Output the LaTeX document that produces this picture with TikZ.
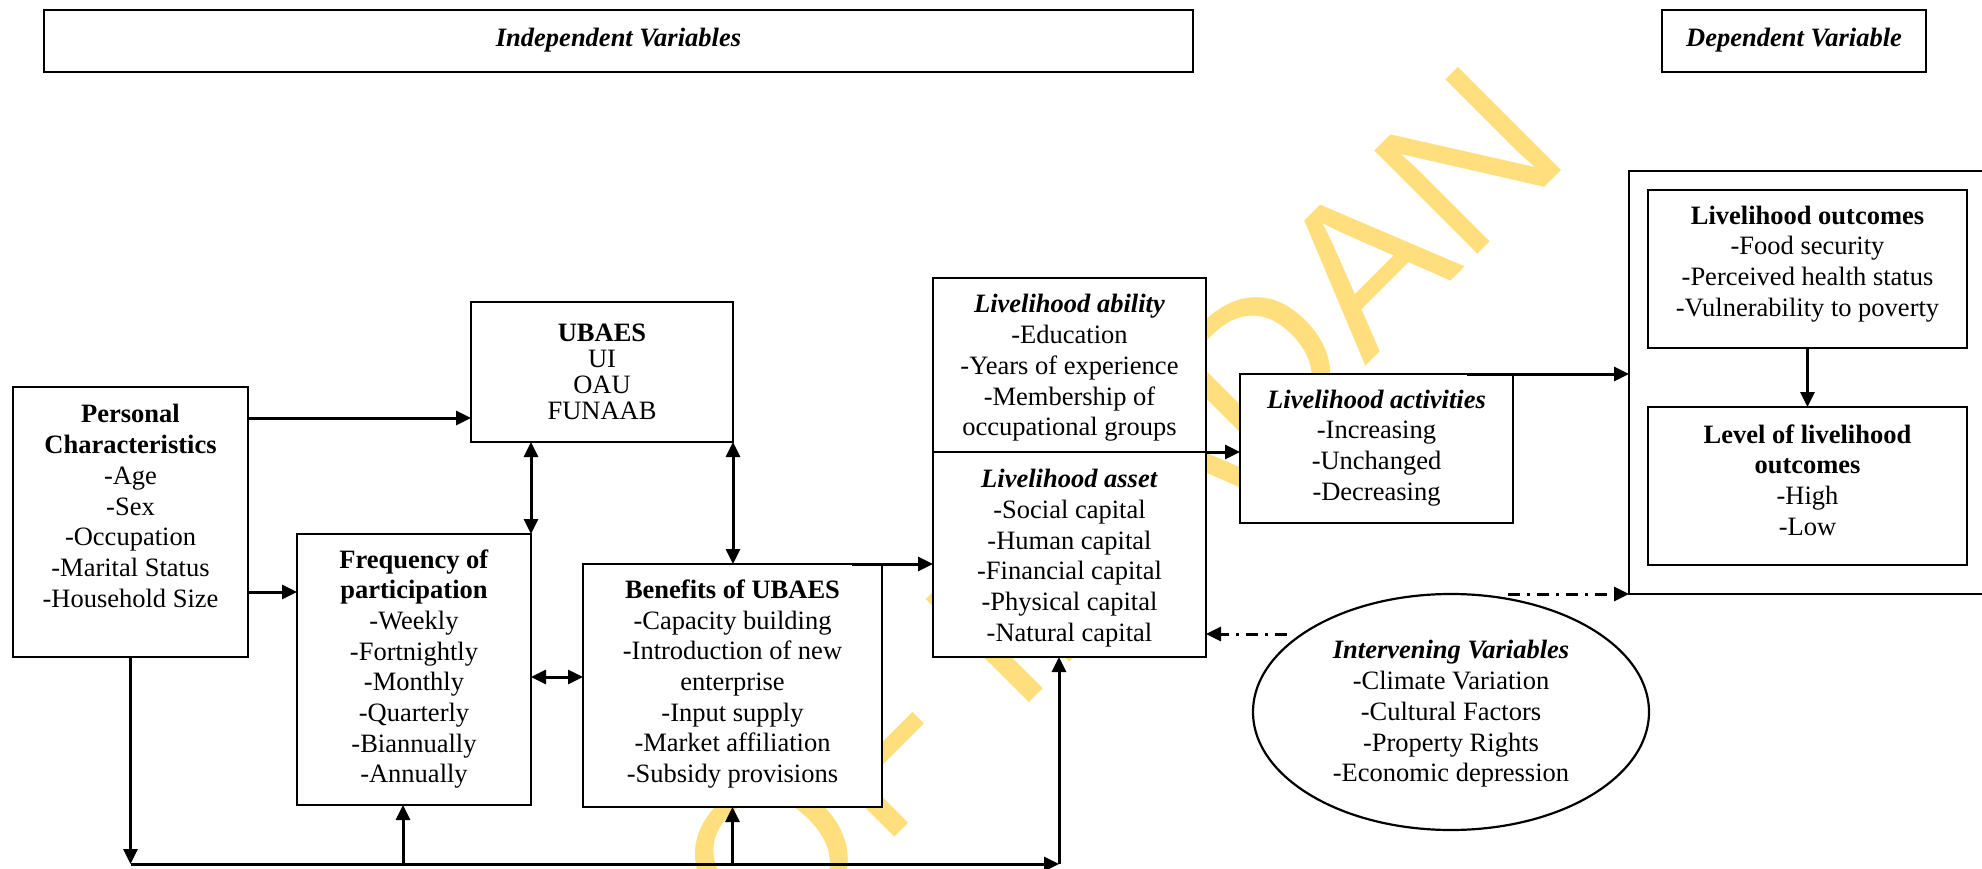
\documentclass[tikz,border=0pt]{standalone}
\usepackage{fontspec}
\setmainfont{Liberation Serif}
\newfontfamily\wmfont{Liberation Sans}
\usetikzlibrary{arrows.meta,shapes.geometric}
\definecolor{wmyellow}{RGB}{255,222,125}
\begin{document}
\begin{tikzpicture}[x=1pt,y=-1pt,
  box/.style={draw, line width=2.2pt, fill=white, rectangle, inner sep=0pt, outer sep=0pt},
  ell/.style={draw, line width=2.2pt, fill=white, ellipse, inner sep=0pt, outer sep=0pt},
  txt/.style={align=center, font=\fontsize{26.5}{30.7}\selectfont, inner sep=0pt},
  tipA/.tip={Triangle[length=15pt,width=14pt]},
  conn/.style={line width=3pt, -tipA},
  dconn/.style={line width=3pt, tipA-tipA},
  plain/.style={line width=3pt},
  dd/.style={line width=3pt, -tipA, dash pattern=on 12pt off 7pt on 3pt off 7pt},
  wm/.style={text=wmyellow, font=\wmfont\fontsize{212}{212}\selectfont, inner sep=0pt}]
\useasboundingbox (0,0) rectangle (1982,869);
% watermark
\node[wm, rotate=45, anchor=base east] (wmark) at (1574,158) {UNIVERSITY OF IBADAN};
% header boxes
\node[box, minimum width=1149pt, minimum height=62pt] (indep) at (618.5,41) {};
\node[txt] (tindep) at (618.5,40) {\textbf{\textit{Independent Variables}}};
\node[box, minimum width=264pt, minimum height=62pt] (dep) at (1794,41) {};
\node[txt] (tdep) at (1794,40) {\textbf{\textit{Dependent Variable}}};
% boxes
\node[box, minimum width=235pt, minimum height=270pt] (personal) at (130.5,522) {};
\node[box, minimum width=262pt, minimum height=140pt] (ubaes) at (602,372) {};
\node[box, minimum width=234pt, minimum height=271pt] (freq) at (414,669.5) {};
\node[box, minimum width=299pt, minimum height=243pt] (benef) at (732.5,685.5) {};
\node[box, minimum width=273pt, minimum height=174pt] (ability) at (1069.5,365) {};
\node[box, minimum width=273pt, minimum height=205pt] (asset) at (1069.5,554.5) {};
\node[box, minimum width=273pt, minimum height=149pt] (activ) at (1376.5,448.5) {};
\node[box, minimum width=355pt, minimum height=423pt] (outer) at (1806.5,382.5) {};
\node[box, minimum width=319pt, minimum height=158pt] (outc) at (1807.5,269) {};
\node[box, minimum width=319pt, minimum height=158pt] (level) at (1807.5,486) {};
\node[ell, minimum width=396pt, minimum height=236pt] (interv) at (1451,712) {};
% texts
\node[txt] (tpersonal) at (130.5,506) {\textbf{Personal}\\\textbf{Characteristics}\\-Age\\-Sex\\-Occupation\\-Marital Status\\-Household Size};
\node[txt, font=\fontsize{26.5}{26.1}\selectfont] (tubaes) at (602,372) {\textbf{UBAES}\\UI\\OAU\\FUNAAB};
\node[txt] (tfreq) at (414,669) {\textbf{Frequency of}\\\textbf{participation}\\-Weekly\\-Fortnightly\\-Monthly\\-Quarterly\\-Biannually\\-Annually};
\node[txt] (tbenef) at (732.5,684) {\textbf{Benefits of UBAES}\\-Capacity building\\-Introduction of new\\enterprise\\-Input supply\\-Market affiliation\\-Subsidy provisions};
\node[txt] (tability) at (1069.5,368) {\textbf{\textit{Livelihood ability}}\\-Education\\-Years of experience\\-Membership of\\occupational groups};
\node[txt] (tasset) at (1069.5,558) {\textbf{\textit{Livelihood asset}}\\-Social capital\\-Human capital\\-Financial capital\\-Physical capital\\-Natural capital};
\node[txt] (tactiv) at (1376.5,448) {\textbf{\textit{Livelihood activities}}\\-Increasing\\-Unchanged\\-Decreasing};
\node[txt] (toutc) at (1807.5,264) {\textbf{Livelihood outcomes}\\-Food security\\-Perceived health status\\-Vulnerability to poverty};
\node[txt] (tlevel) at (1807.5,480) {\textbf{Level of livelihood}\\\textbf{outcomes}\\-High\\-Low};
\node[txt] (tinterv) at (1451,714) {\textbf{\textit{Intervening Variables}}\\-Climate Variation\\-Cultural Factors\\-Property Rights\\-Economic depression};
% connectors
\draw[conn] (personal.east |- 0,418) -- (ubaes.west |- 0,418);
\draw[conn] (personal.east |- 0,592) -- (freq.west |- 0,592);
\draw[dconn] (freq.north east) -- (ubaes.south -| freq.north east);
\draw[dconn] (ubaes.south east) -- (benef.north -| ubaes.south east);
\draw[dconn] (freq.east |- 0,677) -- (benef.west |- 0,677);
\draw[conn] ([xshift=-30pt]benef.north east) -- (asset.west |- benef.north);
\draw[conn] (ability.south east) -- (activ.west |- ability.south east);
\draw[conn] ([xshift=-46pt]activ.north east) -- (outer.west |- activ.north);
\draw[conn] (outc.south) -- (level.north);
\coordinate (ie1) at (1287,634);
\coordinate (ie2) at (1508,594);
\draw[dd] (ie1) -- (asset.east |- ie1);
\draw[dd] (ie2) -- (outer.south west);
% bottom feedback line
\coordinate (bl) at (personal.south |- 0,864);
\coordinate (br) at (1059,864);
\draw[conn] (personal.south) -- (bl);
\draw[conn] (bl) -- (br);
\draw[conn] (br) -- (asset.south -| br);
\draw[conn] (403,864) -- (freq.south -| 403,0);
\draw[conn] (benef.south |- br) -- (benef.south);
\end{tikzpicture}
\end{document}
